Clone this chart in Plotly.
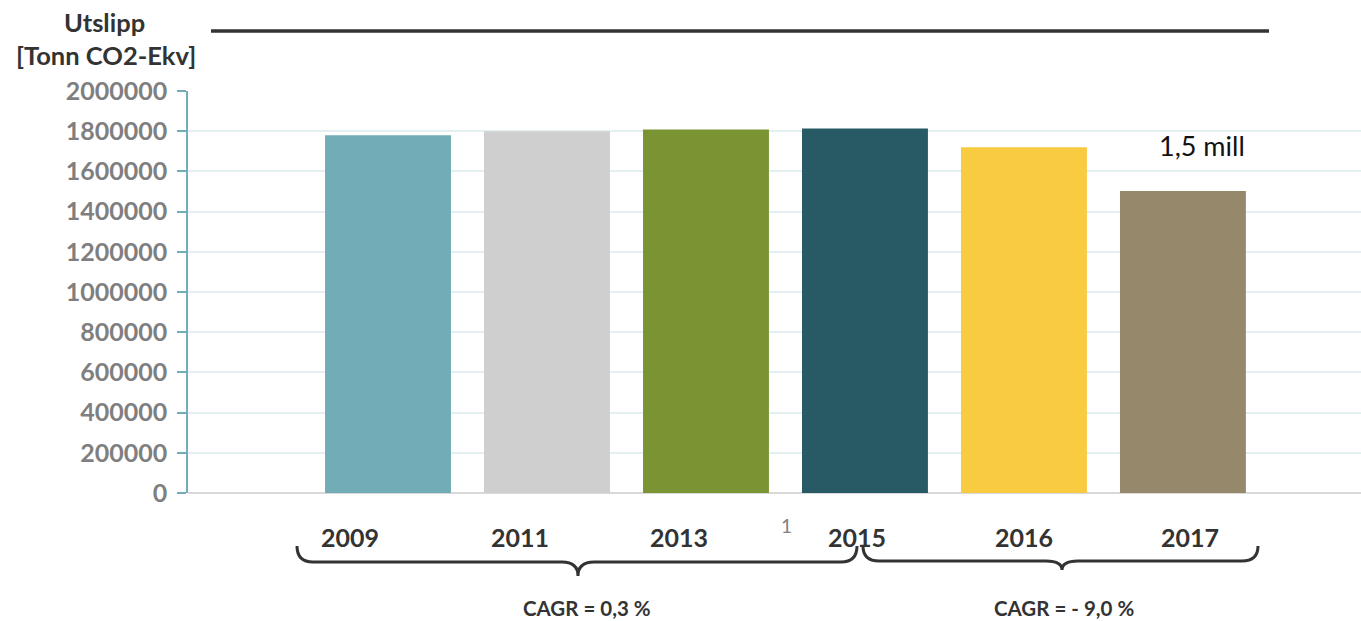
import plotly.graph_objects as go

years = ["2009", "2011", "2013", "2015", "2016", "2017"]
emissions = [1780000, 1800000, 1808000, 1813000, 1720000, 1502000]
colors = ["#72adb7", "#cfcfcf", "#7a9433", "#275a64", "#f8cb40", "#96896b"]
y_ticks = [0, 200000, 400000, 600000, 800000, 1000000, 1200000, 1400000, 1600000, 1800000, 2000000]

# pixel centres of the free-standing year labels (they are not centred under the bars)
year_label_px = [350, 520, 679, 857, 1024, 1190]

W, H = 1361, 621
L, R, T, B = 188, 0, 91, 128
PW = W - L - R
PH = H - T - B
FONT = "Lato"


def px(x):
    return (x - L) / PW


def py(y):
    return (H - B - y) / PH


fig = go.Figure()
fig.add_trace(go.Bar(
    x=years, y=emissions, marker=dict(color=colors, line=dict(width=0)),
    width=0.792, showlegend=False, hoverinfo="x+y",
))

fig.update_layout(
    width=W, height=H,
    margin=dict(l=L, r=R, t=T, b=B, pad=0),
    paper_bgcolor="white", plot_bgcolor="white",
    font=dict(family=FONT),
    bargap=0.2,
)
fig.update_xaxes(
    type="category", range=[-1.258, 6.12],
    showgrid=False, showline=False, zeroline=False,
    ticks="", showticklabels=False,
)
fig.update_yaxes(
    range=[0, 2000000], tickvals=y_ticks, ticktext=[str(v) for v in y_ticks],
    showgrid=True, gridcolor="#e3eff1", gridwidth=2,
    zeroline=True, zerolinecolor="#d9d9d9", zerolinewidth=2,
    showline=True, linecolor="#72adb7", linewidth=1.5,
    ticks="outside", ticklen=9, tickcolor="#72adb7", tickwidth=1.5,
    tickfont=dict(family=FONT, size=25, color="#7f7f7f", weight="bold"),
    ticklabelstandoff=5,
)

line_col = "#333333"
shapes = [
    dict(type="line", xref="paper", yref="paper", x0=px(211), x1=px(1269), y0=py(31), y1=py(31),
         line=dict(color=line_col, width=3.5)),
]


def brace(x0, x1, xm, yh, ytop, ytip, r=16):
    pts = [
        f"M {px(x0)},{py(ytop)}",
        f"Q {px(x0)},{py(yh)} {px(x0 + r)},{py(yh)}",
        f"L {px(xm - r)},{py(yh)}",
        f"Q {px(xm)},{py(yh)} {px(xm)},{py(ytip)}",
        f"Q {px(xm)},{py(yh)} {px(xm + r)},{py(yh)}",
        f"L {px(x1 - r)},{py(yh)}",
        f"Q {px(x1)},{py(yh)} {px(x1)},{py(ytop)}",
    ]
    return dict(type="path", xref="paper", yref="paper", path=" ".join(pts),
                line=dict(color=line_col, width=3))


shapes.append(brace(297, 857, 578, 562, 546, 576))
shapes.append(brace(863, 1258, 1062, 561, 546, 570))
fig.update_layout(shapes=shapes)

annotations = [
    dict(text="<b>Utslipp</b>", x=px(104), y=py(22), font=dict(size=25.5, color="#333333")),
    dict(text="<b>[Tonn CO2-Ekv]</b>", x=px(106), y=py(55), font=dict(size=25.5, color="#333333")),
    dict(text="1,5 mill", x=px(1202), y=py(145), font=dict(size=27, color="#111111")),
    dict(text="1", x=px(786), y=py(525), font=dict(size=19, color="#808080")),
    dict(text="<b>CAGR = 0,3 %</b>", x=px(587), y=py(608), font=dict(size=20.5, color="#333333")),
    dict(text="<b>CAGR = - 9,0 %</b>", x=px(1064), y=py(608), font=dict(size=20.5, color="#333333")),
]
for yr, xp in zip(years, year_label_px):
    annotations.append(dict(text=f"<b>{yr}</b>", x=px(xp), y=py(537),
                            font=dict(size=25, color="#333333")))
for a in annotations:
    a.update(xref="paper", yref="paper", showarrow=False, xanchor="center", yanchor="middle")
    a["font"]["family"] = FONT
fig.update_layout(annotations=annotations)

fig.write_html("out.html")
